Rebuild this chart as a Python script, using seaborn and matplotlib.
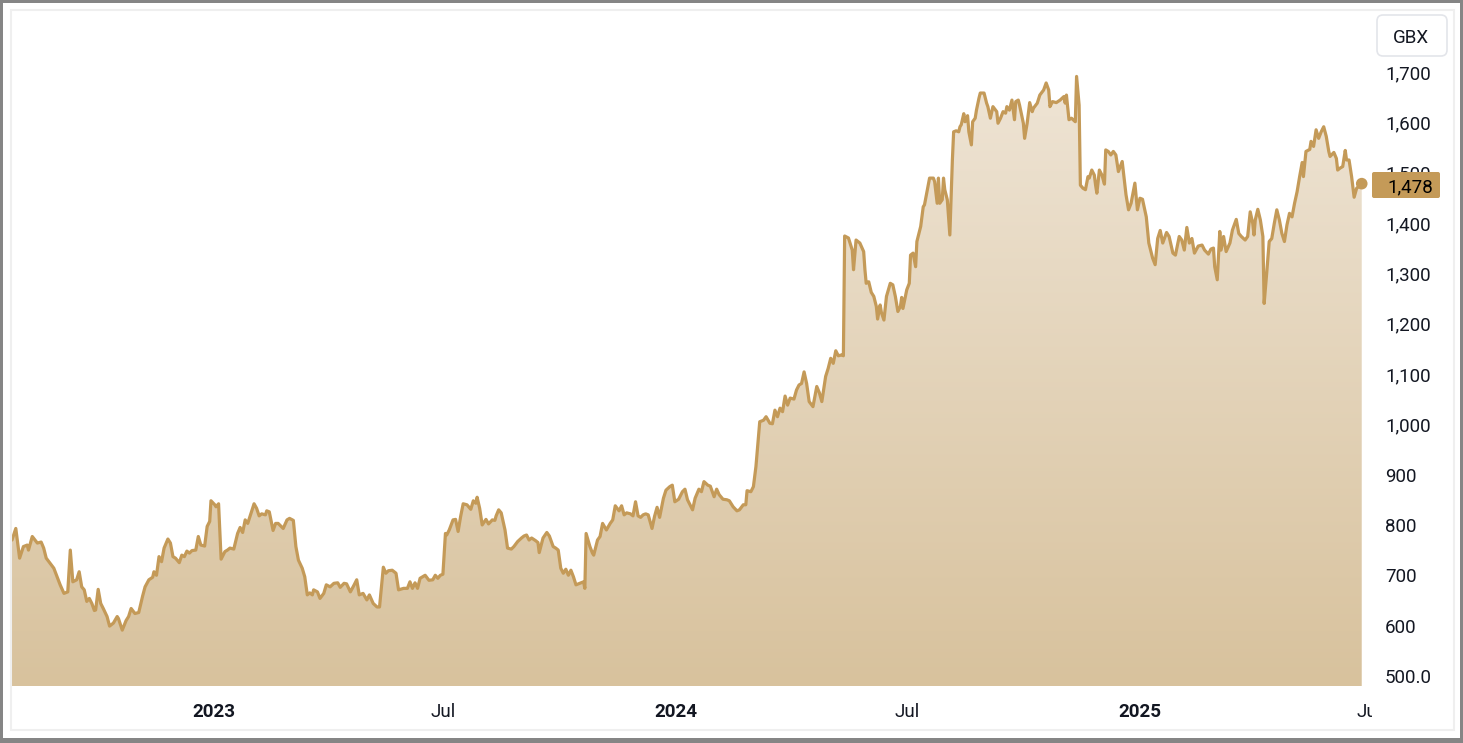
import numpy as np
import pandas as pd
import matplotlib
matplotlib.use("Agg")
import matplotlib.pyplot as plt
import matplotlib.dates as mdates
import seaborn as sns
from matplotlib.patches import Rectangle, FancyBboxPatch
from matplotlib.transforms import Bbox, IdentityTransform, blended_transform_factory
from matplotlib.colors import LinearSegmentedColormap

# ---------------- data (GBX close prices) ----------------
dates_2022 = ["07-26", "07-29", "08-01", "08-04", "08-07", "08-08", "08-11", "08-14", "08-15", "08-18",
              "08-20", "08-22", "08-25", "08-28", "08-31", "09-02", "09-05", "09-08", "09-10", "09-12",
              "09-15", "09-17", "09-19", "09-21", "09-23", "09-25", "09-27", "09-29", "09-30", "10-02",
              "10-04", "10-06", "10-09", "10-11", "10-14", "10-17", "10-18", "10-21", "10-24", "10-26",
              "10-28", "10-31", "11-03", "11-06", "11-08", "11-11", "11-14", "11-15", "11-17", "11-19",
              "11-21", "11-23", "11-26", "11-28", "11-30", "12-02", "12-05", "12-07", "12-09", "12-11",
              "12-13", "12-15", "12-18", "12-20", "12-22", "12-25", "12-27", "12-29", "12-30"]
prices_2022 = [770, 793, 734, 757, 760, 750, 777, 767, 764, 766,
               754, 734, 724, 714, 694, 681, 664, 667, 750, 687,
               691, 707, 677, 671, 648, 654, 644, 630, 631, 672,
               644, 634, 618, 599, 605, 618, 614, 591, 610, 618,
               634, 624, 626, 658, 677, 691, 696, 707, 700, 737,
               727, 754, 772, 764, 737, 734, 725, 740, 737, 748,
               744, 749, 750, 777, 760, 758, 797, 807, 848]

dates_2023 = ["01-02", "01-03", "01-05", "01-07", "01-10", "01-12", "01-14", "01-17", "01-20", "01-22",
              "01-24", "01-26", "01-28", "01-31", "02-02", "02-04", "02-06", "02-08", "02-11", "02-12",
              "02-14", "02-17", "02-19", "02-21", "02-25", "02-28", "03-02", "03-05", "03-07", "03-09",
              "03-12", "03-14", "03-16", "03-18", "03-20", "03-21", "03-24", "03-26", "03-29", "03-31",
              "04-03", "04-06", "04-09", "04-11", "04-14", "04-16", "04-19", "04-22", "04-24", "04-26",
              "04-29", "05-02", "05-04", "05-07", "05-10", "05-12", "05-15", "05-17", "05-19", "05-22",
              "05-25", "05-27", "05-31", "06-03", "06-05", "06-07", "06-09", "06-11", "06-13", "06-15",
              "06-17", "06-20", "06-23", "06-25", "06-27", "06-29", "07-01", "07-03", "07-04", "07-06",
              "07-09", "07-11", "07-13", "07-15", "07-17", "07-20", "07-23", "07-25", "07-27", "07-28",
              "07-30", "08-01", "08-04", "08-06", "08-09", "08-11", "08-12", "08-14", "08-16", "08-19",
              "08-21", "08-24", "08-26", "08-29", "09-01", "09-03", "09-05", "09-07", "09-09", "09-12",
              "09-14", "09-15", "09-18", "09-21", "09-23", "09-26", "09-28", "09-30", "10-02", "10-04",
              "10-06", "10-08", "10-10", "10-12", "10-14", "10-17", "10-20", "10-21", "10-22", "10-25",
              "10-27", "10-28", "10-31", "11-02", "11-04", "11-07", "11-10", "11-12", "11-14", "11-17",
              "11-19", "11-21", "11-23", "11-26", "11-28", "11-30", "12-02", "12-04", "12-06", "12-08",
              "12-10", "12-13", "12-15", "12-17", "12-19", "12-22", "12-24", "12-27", "12-29", "12-31"]
prices_2023 = [840, 836, 842, 732, 747, 750, 754, 752, 783, 795,
               785, 810, 803, 826, 842, 833, 818, 822, 820, 828,
               826, 789, 803, 803, 793, 810, 813, 809, 757, 730,
               714, 697, 661, 665, 661, 671, 667, 654, 664, 681,
               677, 684, 685, 676, 684, 683, 667, 681, 691, 661,
               664, 651, 661, 644, 637, 637, 716, 704, 709, 710,
               704, 671, 674, 674, 687, 674, 685, 674, 694, 697,
               700, 690, 691, 700, 694, 700, 702, 783, 780, 790,
               810, 811, 787, 817, 842, 840, 831, 848, 843, 855,
               833, 800, 811, 802, 810, 809, 818, 830, 824, 790,
               754, 752, 757, 767, 774, 778, 780, 770, 774, 769,
               765, 745, 774, 785, 778, 757, 754, 750, 714, 704,
               712, 700, 710, 697, 681, 684, 687, 674, 783, 757,
               744, 740, 770, 777, 803, 790, 803, 810, 838, 828,
               838, 820, 824, 822, 818, 846, 818, 815, 820, 822,
               820, 793, 817, 835, 815, 853, 869, 876, 879, 846]

dates_2024 = ["01-03", "01-06", "01-08", "01-10", "01-14", "01-16", "01-19", "01-21", "01-23", "01-26",
              "01-28", "01-31", "02-02", "02-04", "02-07", "02-10", "02-12", "02-15", "02-18", "02-20",
              "02-23", "02-25", "02-26", "02-29", "03-02", "03-04", "03-07", "03-10", "03-12", "03-15",
              "03-17", "03-19", "03-21", "03-23", "03-25", "03-27", "03-29", "03-31", "04-03", "04-05",
              "04-07", "04-09", "04-11", "04-13", "04-15", "04-18", "04-21", "04-23", "04-25", "04-28",
              "04-30", "05-02", "05-04", "05-06", "05-08", "05-11", "05-12", "05-13", "05-16", "05-19",
              "05-20", "05-22", "05-25", "05-28", "05-29", "05-30", "06-01", "06-03", "06-05", "06-07",
              "06-08", "06-10", "06-11", "06-13", "06-15", "06-18", "06-20", "06-22", "06-24", "06-26",
              "06-27", "06-28", "07-01", "07-03", "07-04", "07-06", "07-08", "07-09", "07-12", "07-14",
              "07-15", "07-17", "07-19", "07-22", "07-23", "07-25", "07-26", "07-27", "07-29", "07-30",
              "07-31", "08-02", "08-04", "08-06", "08-07", "08-09", "08-11", "08-12", "08-13", "08-15",
              "08-16", "08-18", "08-19", "08-21", "08-22", "08-24", "08-25", "08-27", "08-28", "08-31",
              "09-02", "09-03", "09-05", "09-07", "09-10", "09-11", "09-13", "09-15", "09-17", "09-18",
              "09-20", "09-22", "09-24", "09-25", "09-27", "09-28", "10-01", "10-02", "10-04", "10-06",
              "10-08", "10-09", "10-12", "10-14", "10-17", "10-19", "10-21", "10-22", "10-24", "10-27",
              "10-30", "11-02", "11-03", "11-04", "11-06", "11-08", "11-11", "11-12", "11-14", "11-15",
              "11-17", "11-19", "11-21", "11-22", "11-24", "11-26", "11-27", "11-28", "11-30", "12-02",
              "12-04", "12-05", "12-07", "12-09", "12-11", "12-13", "12-15", "12-17", "12-18", "12-21",
              "12-23", "12-25", "12-28", "12-30"]
prices_2024 = [851, 866, 871, 850, 830, 853, 871, 866, 886, 879,
               877, 856, 871, 860, 851, 850, 848, 836, 828, 830,
               840, 840, 868, 866, 876, 916, 1005, 1008, 1015, 1002,
               1001, 1028, 1015, 1032, 1025, 1056, 1038, 1052, 1050, 1068,
               1078, 1081, 1104, 1081, 1045, 1035, 1075, 1063, 1045, 1095,
               1111, 1131, 1121, 1146, 1136, 1138, 1136, 1374, 1370, 1346,
               1307, 1366, 1360, 1343, 1307, 1280, 1283, 1262, 1254, 1234,
               1209, 1237, 1222, 1207, 1254, 1280, 1277, 1254, 1224, 1234,
               1252, 1230, 1267, 1280, 1336, 1340, 1313, 1363, 1393, 1432,
               1436, 1462, 1489, 1489, 1482, 1439, 1489, 1439, 1446, 1489,
               1466, 1446, 1376, 1525, 1581, 1583, 1581, 1591, 1595, 1617,
               1601, 1613, 1581, 1555, 1601, 1608, 1624, 1648, 1658, 1658,
               1638, 1631, 1608, 1631, 1621, 1598, 1608, 1621, 1618, 1631,
               1624, 1644, 1605, 1641, 1644, 1634, 1598, 1568, 1598, 1639,
               1621, 1628, 1638, 1654, 1664, 1678, 1664, 1631, 1641, 1639,
               1644, 1651, 1638, 1654, 1605, 1608, 1601, 1691, 1634, 1475,
               1469, 1466, 1492, 1489, 1505, 1495, 1475, 1459, 1505, 1495,
               1477, 1545, 1542, 1535, 1542, 1535, 1502, 1515, 1522, 1456,
               1426, 1439, 1479, 1426]

dates_2025 = ["01-01", "01-03", "01-06", "01-08", "01-11", "01-13", "01-15", "01-17", "01-19", "01-22",
              "01-24", "01-27", "01-29", "02-01", "02-03", "02-05", "02-07", "02-09", "02-11", "02-13",
              "02-16", "02-19", "02-21", "02-24", "02-26", "02-28", "03-01", "03-03", "03-05", "03-06",
              "03-08", "03-10", "03-13", "03-15", "03-18", "03-20", "03-22", "03-25", "03-27", "03-29",
              "03-31", "04-01", "04-02", "04-04", "04-06", "04-08", "04-09", "04-11", "04-13", "04-15",
              "04-17", "04-19", "04-21", "04-23", "04-25", "04-27", "04-29", "05-01", "05-03", "05-05",
              "05-07", "05-09", "05-10", "05-12", "05-15", "05-16", "05-18", "05-20", "05-22", "05-24",
              "05-26", "05-28", "05-30", "05-31", "06-03", "06-05", "06-06", "06-08", "06-10", "06-12",
              "06-13", "06-15", "06-17", "06-19", "06-21", "06-23", "06-25"]
prices_2025 = [1449, 1447, 1412, 1360, 1330, 1317, 1369, 1385, 1360, 1381,
               1373, 1340, 1336, 1373, 1366, 1346, 1391, 1360, 1369, 1340,
               1354, 1356, 1346, 1338, 1348, 1350, 1313, 1287, 1383, 1346,
               1373, 1343, 1360, 1386, 1407, 1379, 1373, 1366, 1373, 1422,
               1399, 1376, 1406, 1427, 1406, 1373, 1240, 1300, 1363, 1369,
               1399, 1426, 1406, 1379, 1363, 1396, 1419, 1412, 1439, 1462,
               1492, 1520, 1492, 1542, 1546, 1562, 1552, 1585, 1568, 1581,
               1591, 1572, 1542, 1532, 1540, 1528, 1505, 1509, 1512, 1544,
               1525, 1525, 1492, 1451, 1469, 1473, 1478]

y_ticks = [500, 600, 700, 800, 900, 1000, 1100, 1200, 1300, 1400, 1500, 1600, 1700]
y_tick_labels = ["500.0", "600", "700", "800", "900", "1,000", "1,100", "1,200",
                 "1,300", "1,400", "1,500", "1,600", "1,700"]
x_tick_dates = ["2023-01-01", "2023-07-01", "2024-01-01", "2024-07-01", "2025-01-01"]
x_tick_labels = ["2023", "Jul", "2024", "Jul", "2025"]
x_tick_bold = [True, False, True, False, True]
extra_x_date = "2025-07-01"
extra_x_label = "Jul"
currency = "GBX"
last_label = "1,478"

# ---------------- build table ----------------
frames = []
for yr, ds, ps in [(2022, dates_2022, prices_2022), (2023, dates_2023, prices_2023),
                   (2024, dates_2024, prices_2024), (2025, dates_2025, prices_2025)]:
    frames.append(pd.DataFrame({"date": pd.to_datetime([f"{yr}-{d}" for d in ds]), "price": ps}))
df = pd.concat(frames, ignore_index=True)

# ---------------- style ----------------
sns.set_theme(style="white")
plt.rcParams['font.family'] = ['Roboto', 'DejaVu Sans']
TXT = "#131722"
LINE = "#c49a58"
FS = 13.5

W, H = 1463, 743
fig = plt.figure(figsize=(W / 100, H / 100), dpi=100)
fig.patch.set_facecolor("white")
ax = fig.add_axes([12 / W, 1 - 686 / H, (1363 - 12) / W, (686 - 12) / H])
ax.set_facecolor("white")

ymin, ymax = 480, 1819
x0 = pd.Timestamp("2022-07-26")
x1 = pd.Timestamp("2025-06-26")

# gradient area under the line
poly = ax.fill_between(df["date"], df["price"], ymin, facecolor="none", edgecolor="none", linewidth=0)
cmap = LinearSegmentedColormap.from_list("g", ["#d8c29d", "#efe5d6"])
grad = np.linspace(0, 1, 256).reshape(-1, 1)
xn0, xn1 = mdates.date2num(x0), mdates.date2num(x1)
im = ax.imshow(grad, aspect="auto", cmap=cmap, origin="lower",
               extent=[xn0 - 5, xn1 + 5, ymin, 1720], zorder=1, interpolation="bicubic")
im.set_clip_path(poly.get_paths()[0], transform=ax.transData)

sns.lineplot(data=df, x="date", y="price", estimator=None, sort=False, color=LINE,
             linewidth=2.3, ax=ax, zorder=3)
sns.scatterplot(x=[df["date"].iloc[-1]], y=[df["price"].iloc[-1]], s=70, color=LINE,
                edgecolor="none", ax=ax, zorder=4, clip_on=False)

ax.set_xlim(x0, x1)
ax.set_ylim(ymin, ymax)
ax.set_xlabel("")
ax.set_ylabel("")
sns.despine(ax=ax, left=True, bottom=True, right=True, top=True)
ax.grid(False)

# y axis on the right
ax.yaxis.tick_right()
ax.set_yticks(y_ticks)
ax.set_yticklabels(y_tick_labels)
ax.tick_params(axis="y", length=0, pad=15.8, labelsize=FS, labelcolor=TXT)

# x axis
ax.set_xticks(pd.to_datetime(x_tick_dates))
ax.set_xticklabels(x_tick_labels)
ax.tick_params(axis="x", length=0, pad=12, labelsize=FS, labelcolor=TXT)
for lab, b in zip(ax.get_xticklabels(), x_tick_bold):
    lab.set_fontweight("bold" if b else "normal")

# trailing month label, cut off at the chart edge
fig.canvas.draw()
bb = ax.get_xticklabels()[1].get_window_extent()
t = ax.text(mdates.date2num(pd.Timestamp(extra_x_date)), bb.y1, extra_x_label,
            transform=blended_transform_factory(ax.transData, IdentityTransform()),
            ha="center", va="top", fontsize=FS, color=TXT)
t.set_clip_on(True)
t.set_clip_box(Bbox([[0, 0], [1372, H]]))

# ---------------- decorations in pixel coordinates ----------------
ID = IdentityTransform()

def py(y_img):
    return H - y_img

# last price box
fig.add_artist(FancyBboxPatch((1372, py(198)), 68, 26, boxstyle="round,pad=0,rounding_size=2",
                              facecolor="#c49a58", edgecolor="none", transform=ID, zorder=5))
fig.text(1387, py(185), last_label, transform=ID, ha="left", va="center_baseline",
         fontsize=FS, color="#000000", zorder=6)

# currency box
fig.add_artist(FancyBboxPatch((1377, py(56)), 70, 41, boxstyle="round,pad=0,rounding_size=6",
                              facecolor="white", edgecolor="#e3e5ea", linewidth=1.2, transform=ID, zorder=5))
fig.text(1411, py(36), currency, transform=ID, ha="center", va="center_baseline",
         fontsize=FS, color=TXT, zorder=6)

# inner light frame
fig.add_artist(Rectangle((11, py(730)), 1443, 720, facecolor="none", edgecolor="#efefef",
                         linewidth=1.5, transform=ID, zorder=7))
# outer gray frame
gray = "#858585"
for (xx, yy, ww, hh) in [(0, 0, 3, H), (W - 3, 0, 3, H), (0, H - 3, W, 3), (0, 0, W, 5)]:
    fig.add_artist(Rectangle((xx, yy), ww, hh, facecolor=gray, edgecolor="none",
                             transform=ID, zorder=8))

fig.savefig("out.png", dpi=100, facecolor="white")
